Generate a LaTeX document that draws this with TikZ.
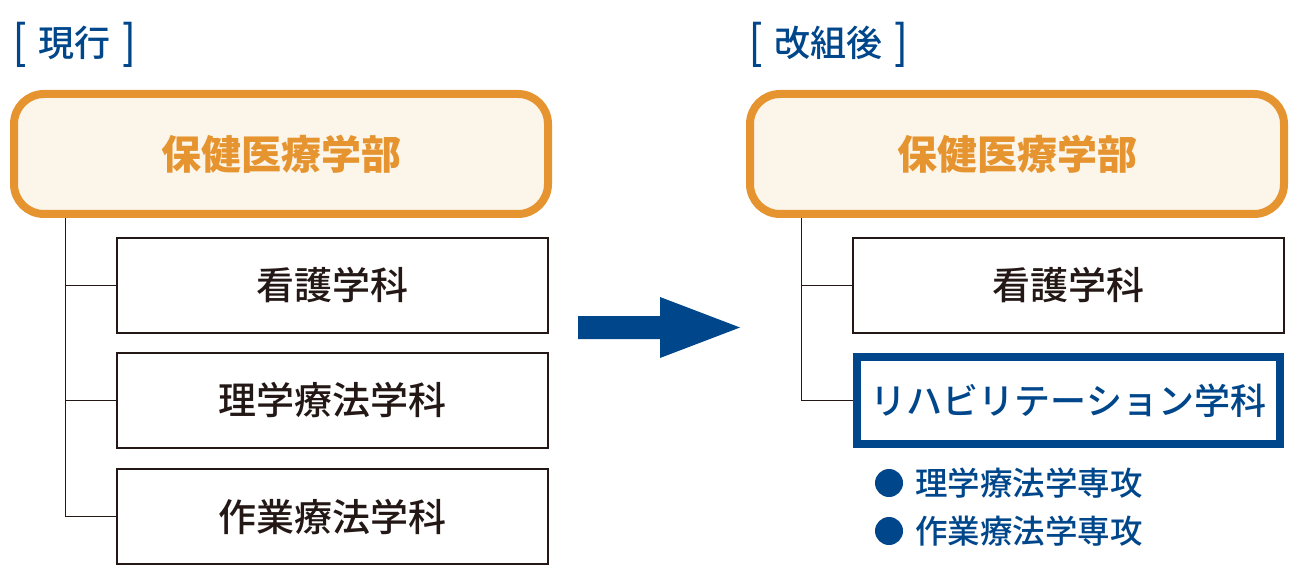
\documentclass[tikz,border=0pt]{standalone}
\usepackage{fontspec}
\newfontfamily\jpfont{Noto Sans CJK JP}
\newfontfamily\jpmedium{Noto Sans CJK JP Medium}
\usetikzlibrary{positioning,calc}
\definecolor{navy}{HTML}{00468A}
\definecolor{deptorange}{HTML}{E59430}
\definecolor{deptfill}{HTML}{FCF5E9}
\definecolor{ink}{HTML}{231815}
\newcommand{\tallbr}[1]{\raisebox{-3pt}{\scalebox{1.05}[1.3]{#1}}}
\newcommand{\bracketed}[1]{\tallbr{[}\hspace{12pt}#1\hspace{12pt}\tallbr{]}}
\tikzset{
  dept/.style={draw=deptorange,line width=8pt,fill=deptfill,rounded corners=30pt,
    minimum width=534pt,minimum height=120pt,inner sep=0pt,
    text=deptorange,font=\jpfont\bfseries\fontsize{40}{44}\selectfont},
  subj/.style={draw=ink,line width=1.3pt,minimum width=431pt,minimum height=95pt,
    inner sep=0pt,text=ink,font=\jpmedium\fontsize{38}{42}\selectfont},
  newsubj/.style={draw=navy,line width=8pt,minimum width=423pt,minimum height=87pt,
    inner sep=0pt,text=navy,font=\jpmedium\fontsize{36}{40}\selectfont},
  heading/.style={anchor=west,inner sep=0pt,text=navy,font=\jpmedium\fontsize{36}{40}\selectfont},
  course/.style={anchor=west,inner sep=0pt,text=navy,font=\jpmedium\fontsize{32.5}{36}\selectfont},
  dot/.style={circle,fill=navy,minimum size=28pt,inner sep=0pt},
  branch/.style={draw=ink,line width=1pt},
}
\begin{document}
\begin{tikzpicture}[x=1pt,y=-1pt]
\useasboundingbox (0,0) rectangle (1306,580);

% current organisation
\node[heading] (titleL) at (13,45) {\bracketed{現行}};
\node[dept] (deptL) at (281,154) {保健医療学部};
\node[subj] (nurseL) at (332.5,285.5) {看護学科};
\node[subj] (ptL) at (332.5,400.5) {理学療法学科};
\node[subj] (otL) at (332.5,516.5) {作業療法学科};
\coordinate (trunkL) at (65,0);
\draw[branch] (deptL.south -| trunkL) |- (otL.west);
\draw[branch] (trunkL |- nurseL.west) -- (nurseL.west);
\draw[branch] (trunkL |- ptL.west) -- (ptL.west);

% arrow
\fill[navy] (578,316) -- (660,316) -- (660,297) -- (740,327.5)
  -- (660,358) -- (660,339) -- (578,339) -- cycle;

% reorganised
\node[heading] (titleR) at (749,45) {\bracketed{改組後}};
\node[dept] (deptR) at (1017,154) {保健医療学部};
\node[subj] (nurseR) at (1068.5,285.5) {看護学科};
\node[newsubj] (rehabR) at (1068.5,400.5) {リハビリテーション学科};
\coordinate (trunkR) at (801,0);
\draw[branch] (deptR.south -| trunkR) |- (rehabR.west);
\draw[branch] (trunkR |- nurseR.west) -- (nurseR.west);

\node[dot] (dotPT) at (889,483) {};
\node[course] (coursePT) at (915,483) {理学療法学専攻};
\node[dot] (dotOT) at (889,531) {};
\node[course] (courseOT) at (915,531) {作業療法学専攻};
\end{tikzpicture}
\end{document}
